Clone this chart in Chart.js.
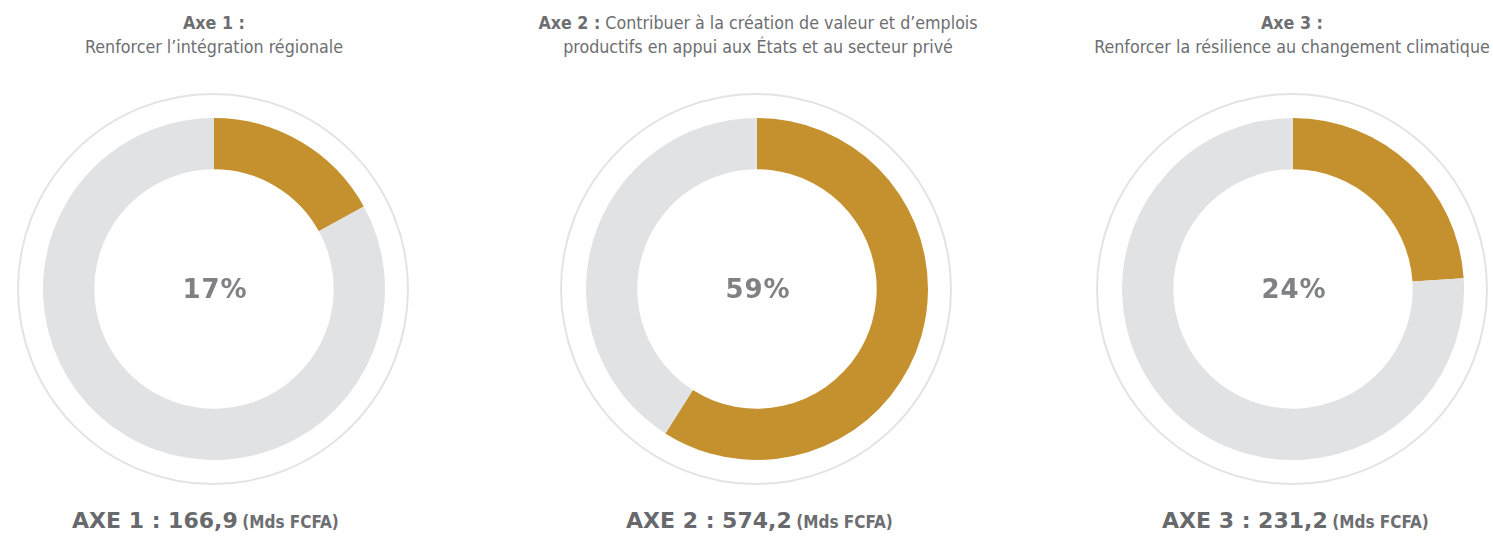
<!DOCTYPE html>
<html lang="fr">
<head>
<meta charset="utf-8">
<script src="https://cdn.jsdelivr.net/npm/chart.js@4.4.1/dist/chart.umd.min.js"></script>
<style>
  html, body { margin: 0; padding: 0; background: #fff; }
  body { width: 1493px; height: 540px; position: relative; overflow: hidden; font-family: "DejaVu Sans Condensed", "Liberation Sans Narrow", Roboto, sans-serif; color: #6d6e71; }
  .title { position: absolute; top: 11px; width: 540px; text-align: center; font-size: 17.7px; line-height: 24px; }
  .title b { font-weight: bold; }
  .box { position: absolute; top: 89px; width: 400px; height: 400px; }
  .amount { position: absolute; top: 506px; line-height: 30px; white-space: nowrap; }
  .amount .big { font-family: "DejaVu Sans", sans-serif; font-weight: bold; font-size: 22px; color: #68696c; }
  .amount .unit { font-family: "DejaVu Sans Condensed", sans-serif; font-weight: bold; font-size: 17px; }
</style>
</head>
<body>
<div id="page"></div>
<script>
// data
const axes = ['AXE 1', 'AXE 2', 'AXE 3'];
const titleHeads = ['Axe 1 :', 'Axe 2 :', 'Axe 3 :'];
const titleTexts = [
  ['Renforcer l’intégration régionale'],
  ['Contribuer à la création de valeur et d’emplois', 'productifs en appui aux États et au secteur privé'],
  ['Renforcer la résilience au changement climatique']
];
const amounts = ['166,9', '574,2', '231,2'];   // Mds FCFA
const shares = [17, 59, 24];                    // % of total
const unit = '(Mds FCFA)';

const centers = [214, 757, 1293];
const titleCenters = [214, 758, 1292];
const amountLeft = [72, 626, 1162];
const GOLD = '#c4912e';
const GREY = '#e1e2e4';

// thin outer ring + center percent
const ringPlugin = {
  id: 'ring',
  beforeDatasetsDraw(chart) {
    const arc = chart.getDatasetMeta(0).data[0];
    if (!arc) return;
    const ctx = chart.ctx;
    ctx.save();
    ctx.beginPath();
    ctx.arc(arc.x - 1, arc.y, arc.outerRadius + 24, 0, Math.PI * 2);
    ctx.strokeStyle = '#e3e3e3';
    ctx.lineWidth = 2;
    ctx.stroke();
    ctx.restore();
  },
  afterDatasetsDraw(chart, args, opts) {
    const arc = chart.getDatasetMeta(0).data[0];
    const ctx = chart.ctx;
    ctx.save();
    ctx.font = 'bold 26px "DejaVu Sans", sans-serif';
    ctx.letterSpacing = '1px';
    ctx.fillStyle = '#808184';
    ctx.textAlign = 'center';
    ctx.textBaseline = 'middle';
    ctx.fillText(opts.text, arc.x + 1, arc.y + 2);
    ctx.restore();
  }
};

const page = document.getElementById('page');

axes.forEach((ax, i) => {
  const title = document.createElement('div');
  title.className = 'title';
  title.style.left = (titleCenters[i] - 270) + 'px';
  if (titleTexts[i].length === 1) {
    title.innerHTML = `<b>${titleHeads[i]}</b><br>${titleTexts[i][0]}`;
  } else {
    title.innerHTML = `<b>${titleHeads[i]}</b> ${titleTexts[i][0]}<br>${titleTexts[i][1]}`;
  }
  page.appendChild(title);

  const box = document.createElement('div');
  box.className = 'box';
  box.style.left = (centers[i] - 200) + 'px';
  const canvas = document.createElement('canvas');
  box.appendChild(canvas);
  page.appendChild(box);

  const amt = document.createElement('div');
  amt.className = 'amount';
  amt.style.left = amountLeft[i] + 'px';
  amt.innerHTML = `<span class="big">${ax} : ${amounts[i]}</span> <span class="unit">${unit}</span>`;
  page.appendChild(amt);

  new Chart(canvas, {
    type: 'doughnut',
    data: {
      labels: [ax, 'Autres'],
      datasets: [{
        data: [shares[i], 100 - shares[i]],
        backgroundColor: [GOLD, GREY],
        borderWidth: 0
      }]
    },
    options: {
      responsive: true,
      maintainAspectRatio: false,
      devicePixelRatio: 1,
      animation: false,
      cutout: '70%',
      layout: { padding: 29 },
      plugins: {
        legend: { display: false },
        tooltip: { enabled: false },
        ring: { text: shares[i] + '%' }
      }
    },
    plugins: [ringPlugin]
  });
});
</script>
</body>
</html>
